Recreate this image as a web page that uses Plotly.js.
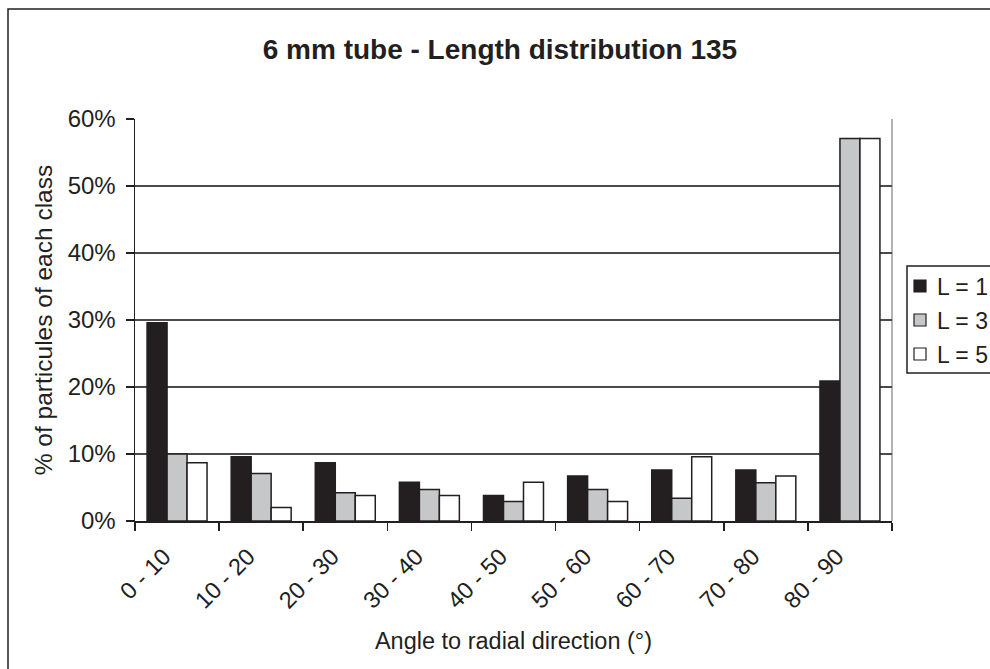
<!DOCTYPE html>
<html>
<head>
<meta charset="utf-8">
<script src="https://cdn.plot.ly/plotly-3.0.1.min.js"></script>
<style>html,body{margin:0;padding:0;background:#fff;}#chart{width:990px;height:669px;}</style>
</head>
<body>
<div id="chart"></div>
<script>
var categories = ["0 - 10","10 - 20","20 - 30","30 - 40","40 - 50","50 - 60","60 - 70","70 - 80","80 - 90"];
var seriesNames = ["L = 1","L = 3","L = 5"];
var valuesL1 = [29.6, 9.6, 8.7, 5.8, 3.8, 6.7, 7.6, 7.6, 20.9];
var valuesL3 = [10.0, 7.1, 4.2, 4.7, 2.9, 4.7, 3.4, 5.7, 57.1];
var valuesL5 = [8.7, 2.0, 3.8, 3.8, 5.8, 2.9, 9.6, 6.7, 57.1];
var yTicks = [0, 10, 20, 30, 40, 50, 60];

var ink = "#231f20";
var font = "Liberation Sans, Arial, sans-serif";
var fills = ["#231f20", "#c6c7c9", "#ffffff"];
var allValues = [valuesL1, valuesL3, valuesL5];

var traces = allValues.map(function(v, i){
  return {
    type: "bar",
    name: seriesNames[i],
    x: categories,
    y: v,
    marker: {color: fills[i], line: {color: ink, width: 1.5}},
    hoverinfo: "skip",
    showlegend: false
  };
});

var W = 990, H = 669, L = 135, R = 892, T = 119, B = 521;
function px(x){ return (x - L) / (R - L); }
function py(y){ return (B - y) / (B - T); }

var shapes = [
  {type: "rect", xref: "paper", yref: "paper", x0: px(8), x1: px(1100), y0: py(9), y1: py(800),
   line: {color: ink, width: 1.5}, fillcolor: "rgba(0,0,0,0)", layer: "below"},
  {type: "line", xref: "paper", yref: "paper", x0: 1, x1: 1, y0: 0, y1: 1,
   line: {color: "#9a9a9a", width: 1.5}, layer: "below"},
  /* legend box */
  {type: "rect", xref: "paper", yref: "paper", x0: px(907), x1: px(1100), y0: py(373), y1: py(266),
   line: {color: ink, width: 1.5}, fillcolor: "#ffffff", layer: "above"}
];
var annotations = [];
var legendRowY = [286, 320, 354];
seriesNames.forEach(function(name, i){
  var cy = legendRowY[i];
  shapes.push({type: "rect", xref: "paper", yref: "paper",
    x0: px(914), x1: px(926), y0: py(cy + 6), y1: py(cy - 6),
    line: {color: ink, width: 1.2}, fillcolor: fills[i], layer: "above"});
  annotations.push({xref: "paper", yref: "paper", x: px(935), y: py(cy + 1),
    xanchor: "left", yanchor: "middle", showarrow: false, text: name,
    font: {family: font, size: 23, color: ink}});
});

var layout = {
  width: W, height: H,
  margin: {l: L, r: W - R, t: T, b: H - B, autoexpand: false},
  paper_bgcolor: "#ffffff",
  plot_bgcolor: "#ffffff",
  barmode: "group",
  bargap: 0.287,
  bargroupgap: 0,
  font: {family: font, color: ink, size: 23},
  title: {
    text: "<b>6 mm tube - Length distribution 135</b>",
    font: {family: font, size: 28, color: ink},
    x: 0.505, xref: "container", xanchor: "center",
    y: 1 - 49/669, yref: "container", yanchor: "middle"
  },
  xaxis: {
    type: "category",
    tickangle: -45,
    tickson: "boundaries",
    ticks: "outside",
    ticklen: 8,
    tickwidth: 1.5,
    tickcolor: ink,
    ticklabelshift: -13,
    ticklabelstandoff: 11,
    showline: true,
    linecolor: ink,
    linewidth: 1.5,
    showgrid: false,
    automargin: false,
    tickfont: {family: font, size: 23.5, color: ink},
    title: {text: "Angle to radial direction (°)", font: {family: font, size: 23.5, color: ink}, standoff: 20}
  },
  yaxis: {
    range: [0, 60],
    tickvals: yTicks,
    ticktext: yTicks.map(function(t){ return t + "%"; }),
    ticks: "outside",
    ticklen: 8,
    tickwidth: 1.5,
    tickcolor: ink,
    ticklabelstandoff: 5,
    showline: true,
    linecolor: ink,
    linewidth: 1.5,
    showgrid: true,
    gridcolor: "#4a4a4a",
    gridwidth: 1.5,
    zeroline: false,
    automargin: false,
    tickfont: {family: font, size: 24, color: ink},
    title: {text: "% of particules of each class", font: {family: font, size: 24.5, color: ink}, standoff: 8}
  },
  showlegend: false,
  shapes: shapes,
  annotations: annotations
};

Plotly.newPlot("chart", traces, layout, {staticPlot: true, displayModeBar: false});
</script>
</body>
</html>
